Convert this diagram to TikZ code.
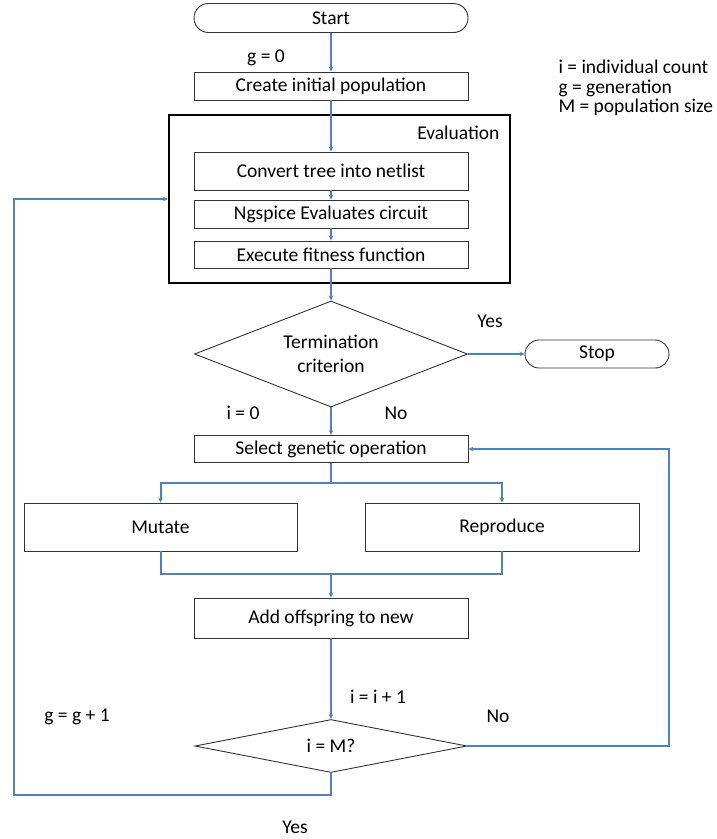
\documentclass[tikz,border=0pt]{standalone}
\usepackage{fontspec}
\setmainfont{Carlito}
\usetikzlibrary{arrows.meta,shapes.geometric}
\definecolor{flowblue}{HTML}{4F81BD}

\begin{document}
\begin{tikzpicture}[x=1pt, y=-1pt, font=\fontsize{19.5}{24}\selectfont]
      \useasboundingbox (0,0) rectangle (717,839);

      \node[rectangle, draw=black, line width=2pt, minimum width=341pt, minimum height=168pt] (evalbox) at (339.5,199) {};
      \node[anchor = east] (evallabel) at (503,133) {Evaluation};

      \begin{scope}[every node/.style={rectangle, draw=black!80, line width=0.9pt, inner sep=0pt, minimum width=274pt}]
          \node[rounded corners=14.5pt, minimum height=29pt] (start) at (331,18) {Start};
          \node[minimum height=28pt] (create) at (331,86) {Create initial population};
          \node[minimum height=38pt] (convert) at (331,171) {Convert tree into netlist};
          \node[minimum height=28pt] (ngspice) at (331,214) {Ngspice Evaluates circuit};
          \node[minimum height=27pt] (execute) at (331,254.5) {Execute fitness function};
          \node[diamond, aspect=2.6, align=center, minimum width=273pt, minimum height=106pt] (term) at (331,354) {Termination\\criterion};
          \node[rounded corners=14pt, minimum width=144pt, minimum height=28pt] (stop) at (597,354) {Stop};
          \node[minimum height=27pt] (select) at (331,449) {Select genetic operation};
          \node[minimum width=273pt, minimum height=48pt] (mutate) at (160.5,527) {Mutate};
          \node[minimum width=274pt, minimum height=48pt] (reproduce) at (502,527) {Reproduce};
          \node[minimum height=40pt] (add) at (331,618) {Add offspring to new};
          \node[diamond, aspect=5, minimum width=272pt, minimum height=53pt] (check) at (331,746) {i = M?};
      \end{scope}

      \coordinate (split) at (331,483);
      \coordinate (merge) at (331,574);
      \coordinate (rcorner) at (669,746);
      \coordinate (lbottom) at (14,795);

      \begin{scope}[>={Stealth[length=5pt, width=4.5pt]},
                    draw=flowblue, line width=2pt,
                    every edge/.style={draw=flowblue, line width=2pt}]
          \path [->] (start) edge (create);
          \path [->] (create) edge (convert);
          \path [->] (convert) edge (ngspice);
          \path [->] (ngspice) edge (execute);
          \path [->] (execute) edge (term);
          \path [->] (term) edge (stop);
          \path [->] (term) edge (select);
          \draw (select) -- (split);
          \draw [->] (split) -| (mutate);
          \draw [->] (split) -| (reproduce);
          \draw (mutate) |- (merge) -| (reproduce);
          \draw [->] (merge) -- (add);
          \path [->] (add) edge (check);
          \draw [->] (check.east) -- (rcorner) |- (select.east);
          \draw [->] (check.south) |- (lbottom) |- (evalbox.west);
      \end{scope}

      \node (gzero) at (266,58) {g = 0};
      \node[anchor = west, align = left, font=\fontsize{19.5}{19.5}\selectfont] (legend) at (555,88) {i = individual count\\g = generation\\M = population size};
      \node (yesstop) at (490,321) {Yes};
      \node (izero) at (243,413) {i = 0};
      \node (nosel) at (396,413) {No};
      \node (iplus) at (378,697) {i = i + 1};
      \node (gplus) at (77,717) {g = g + 1};
      \node (noloop) at (498,716) {No};
      \node (yesloop) at (295,827) {Yes};
\end{tikzpicture}
\end{document}
